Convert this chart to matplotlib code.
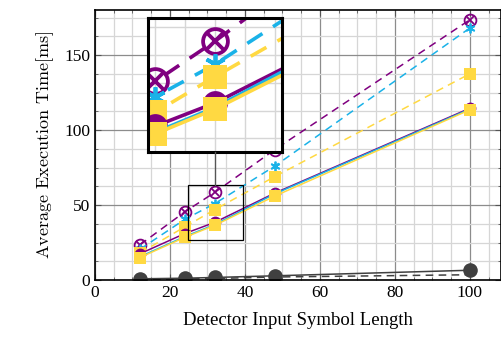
import numpy as np
import matplotlib
matplotlib.use("Agg")
import matplotlib.pyplot as plt
from matplotlib.ticker import MultipleLocator
from matplotlib.patches import Rectangle
from matplotlib.lines import Line2D

plt.rcParams['font.family'] = ['Liberation Serif', 'DejaVu Serif']
plt.rcParams['mathtext.fontset'] = 'cm'

# data
lengths = [12, 24, 32, 48, 100]
purple_dash = [23.5, 45.5, 58.5, 87, 173.5]
cyan_dash = [20.5, 40.5, 51, 76, 168]
yellow_dash = [18, 35.5, 47, 69, 137.5]
purple_solid = [17.5, 31, 38.5, 58, 114.5]
cyan_solid = [15.5, 29, 37, 57.5, 114]
yellow_solid = [15, 28.5, 36.5, 56, 113.5]
gray_solid = [0.8, 1.2, 1.7, 2.8, 6.5]
gray_dash = [0.3, 0.7, 1.0, 2.0, 3.5]

PURPLE = '#800080'
CYAN = '#1ab2e8'
YELLOW = '#ffd942'
GRAY = '#404040'
ASTER = (6, 2, 0)
DASH = (0, (5, 3.5))


def draw_series(ax, k, lw):
    # k scales marker sizes (inset is magnified)
    ax.plot(lengths, purple_dash, color=PURPLE, ls=DASH, lw=lw,
            marker='o', ms=8.5 * k, mfc='none', mew=1.3 * k)
    ax.plot(lengths, purple_dash, ls='none', color=PURPLE,
            marker='x', ms=6 * k, mew=1.3 * k)
    ax.plot(lengths, cyan_dash, color=CYAN, ls=DASH, lw=lw,
            marker=ASTER, ms=7 * k, mew=1.3 * k)
    ax.plot(lengths, yellow_dash, color=YELLOW, ls=DASH, lw=lw,
            marker='s', ms=8.5 * k, mew=0)
    ax.plot(lengths, purple_solid, color=PURPLE, lw=lw,
            marker='o', ms=8.5 * k, mew=0)
    ax.plot(lengths, cyan_solid, color=CYAN, lw=lw,
            marker=ASTER, ms=7 * k, mew=1.3 * k)
    ax.plot(lengths, yellow_solid, color=YELLOW, lw=lw,
            marker='s', ms=8.5 * k, mew=0)
    ax.plot(lengths, gray_dash, color=GRAY, ls=DASH, lw=lw)
    ax.plot(lengths, gray_solid, color=GRAY, lw=lw,
            marker='o', ms=10.5 * k, mew=0)


fig = plt.figure(figsize=(5.02, 3.43), dpi=100)
ax = fig.add_axes([95 / 502, 63 / 343, 406 / 502, 270 / 343])

draw_series(ax, 1.0, 1.1)

ax.set_xlim(0, 108.3)
ax.set_ylim(0, 180)
ax.xaxis.set_major_locator(MultipleLocator(20))
ax.xaxis.set_minor_locator(MultipleLocator(5))
ax.yaxis.set_major_locator(MultipleLocator(50))
ax.yaxis.set_minor_locator(MultipleLocator(12.5))
ax.grid(which='major', color='#8c8c8c', lw=0.9)
ax.grid(which='minor', color='#d6d6d6', lw=0.9)
ax.set_axisbelow(True)
ax.tick_params(which='both', direction='in', top=True, right=True,
               labelsize=12.5, color='#555555')
ax.tick_params(which='major', length=4)
ax.tick_params(which='minor', length=2.5)
for s in ax.spines.values():
    s.set_color('black')
    s.set_linewidth(1.2)

ax.set_xlabel('Detector Input Symbol Length', fontsize=13.5, labelpad=8)
ax.set_ylabel(r'Average Execution Time$[\mathrm{ms}]$', fontsize=13,
              family='cmr10', labelpad=6)

# zoom box and connector
ax.add_patch(Rectangle((24.8, 26.7), 14.7, 36.6, fill=False,
                       ec='black', lw=0.9, zorder=5))
fig.add_artist(Line2D([215 / 502, 215 / 502], [1 - 185 / 343, 1 - 152 / 343],
                      color='#555555', lw=1.0))

# inset
ins = fig.add_axes([148 / 502, 191 / 343, 134 / 502, 134 / 343])
draw_series(ins, 2.1, 2.6)
ins.set_xlim(23, 41)
ins.set_ylim(22.6, 66)
ins.xaxis.set_major_locator(MultipleLocator(4))
ins.yaxis.set_major_locator(MultipleLocator(9))
ins.grid(which='major', color='#d6d6d6', lw=1.0)
ins.set_axisbelow(True)
ins.tick_params(which='both', length=0, labelbottom=False, labelleft=False)
for s in ins.spines.values():
    s.set_color('black')
    s.set_linewidth(2.2)

fig.savefig('out.png', dpi=100)
